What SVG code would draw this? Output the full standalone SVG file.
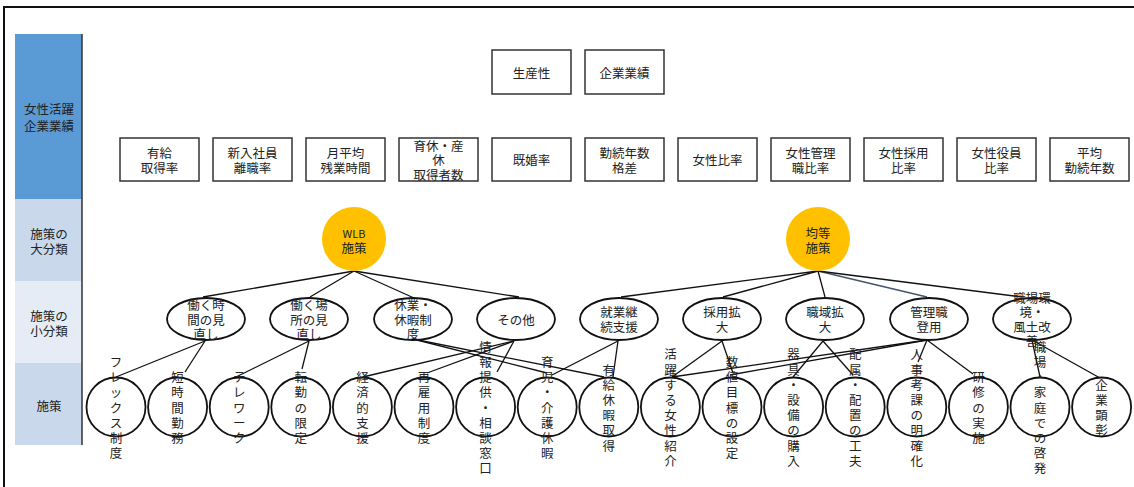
<svg xmlns="http://www.w3.org/2000/svg" width="1134" height="487" viewBox="0 0 1134 487">
<style>
.t{font-family:"Noto Sans CJK JP","Noto Sans CJK SC",sans-serif;font-size:12.5px;fill:#222;text-anchor:middle;dominant-baseline:central}
.box{fill:#fff;stroke:#333;stroke-width:1.5}
.ell{fill:none;stroke:#111;stroke-width:1.8}
.cir{fill:none;stroke:#111;stroke-width:1.8}
.big{fill:#FFC000}
.c line{stroke:#111;stroke-width:1.3}
</style>
<rect width="1134" height="487" fill="#fff"/>
<path d="M4 487 V7 H1134" fill="none" stroke="#111" stroke-width="2"/>
<g id="sidebar">
<rect x="15" y="34" width="67" height="165" fill="#5B9BD5"/>
<rect x="15" y="199" width="67" height="82" fill="#CAD8EC"/>
<rect x="15" y="281" width="67" height="82" fill="#E5ECF6"/>
<rect x="15" y="363" width="67" height="82" fill="#CAD8EC"/>
<line x1="82" y1="34" x2="82" y2="445" stroke="#333" stroke-width="1.5"/>
<text class="t" x="49" y="108">女性活躍</text><text class="t" x="49" y="125">企業業績</text>
<text class="t" x="49" y="233">施策の</text><text class="t" x="49" y="248">大分類</text>
<text class="t" x="49" y="315">施策の</text><text class="t" x="49" y="330">小分類</text>
<text class="t" x="49" y="405">施策</text>
</g>
<g id="top-productivity"><rect class="box" x="492" y="50" width="79" height="44"/><text class="t" x="531.5" y="72">生産性</text></g>
<g id="top-performance"><rect class="box" x="585" y="50" width="79" height="44"/><text class="t" x="624.5" y="72">企業業績</text></g>
<g id="kpi-1"><rect class="box" x="120" y="138" width="79" height="43"/><text class="t" x="159.5" y="152">有給</text><text class="t" x="159.5" y="167">取得率</text></g>
<g id="kpi-2"><rect class="box" x="213" y="138" width="79" height="43"/><text class="t" x="252.5" y="152">新入社員</text><text class="t" x="252.5" y="167">離職率</text></g>
<g id="kpi-3"><rect class="box" x="306" y="138" width="79" height="43"/><text class="t" x="345.5" y="152">月平均</text><text class="t" x="345.5" y="167">残業時間</text></g>
<g id="kpi-4"><rect class="box" x="399" y="138" width="79" height="43"/><text class="t" x="438.5" y="145">育休・産</text><text class="t" x="438.5" y="159.5">休</text><text class="t" x="438.5" y="174">取得者数</text></g>
<g id="kpi-5"><rect class="box" x="492" y="138" width="79" height="43"/><text class="t" x="531.5" y="159.5">既婚率</text></g>
<g id="kpi-6"><rect class="box" x="585" y="138" width="79" height="43"/><text class="t" x="624.5" y="152">勤続年数</text><text class="t" x="624.5" y="167">格差</text></g>
<g id="kpi-7"><rect class="box" x="678" y="138" width="79" height="43"/><text class="t" x="717.5" y="159.5">女性比率</text></g>
<g id="kpi-8"><rect class="box" x="771" y="138" width="79" height="43"/><text class="t" x="810.5" y="152">女性管理</text><text class="t" x="810.5" y="167">職比率</text></g>
<g id="kpi-9"><rect class="box" x="864" y="138" width="79" height="43"/><text class="t" x="903.5" y="152">女性採用</text><text class="t" x="903.5" y="167">比率</text></g>
<g id="kpi-10"><rect class="box" x="957" y="138" width="79" height="43"/><text class="t" x="996.5" y="152">女性役員</text><text class="t" x="996.5" y="167">比率</text></g>
<g id="kpi-11"><rect class="box" x="1050" y="138" width="79" height="43"/><text class="t" x="1089.5" y="152">平均</text><text class="t" x="1089.5" y="167">勤続年数</text></g>
<g id="connectors" class="c">
<line x1="354" y1="271" x2="203" y2="297"/>
<line x1="354" y1="271" x2="310" y2="297"/>
<line x1="354" y1="271" x2="414" y2="298"/>
<line x1="354" y1="271" x2="519" y2="297"/>
<line x1="818" y1="271" x2="621" y2="297"/>
<line x1="818" y1="271" x2="723" y2="297"/>
<line x1="818" y1="271" x2="825" y2="297"/>
<line x1="818" y1="271" x2="927" y2="297" style="stroke:#44546A"/>
<line x1="818" y1="271" x2="1022" y2="297"/>
<line x1="205" y1="341" x2="116" y2="377"/>
<line x1="205" y1="341" x2="185" y2="372"/>
<line x1="309" y1="341" x2="236" y2="377"/>
<line x1="309" y1="341" x2="302" y2="369"/>
<line x1="514" y1="341" x2="363" y2="377"/>
<line x1="514" y1="341" x2="427" y2="373"/>
<line x1="514" y1="341" x2="497" y2="372"/>
<line x1="413" y1="339" x2="547" y2="373"/>
<line x1="413" y1="339" x2="604" y2="377"/>
<line x1="618" y1="341" x2="552" y2="375"/>
<line x1="618" y1="341" x2="613" y2="377"/>
<line x1="722" y1="341" x2="672" y2="377"/>
<line x1="722" y1="341" x2="733" y2="373"/>
<line x1="823" y1="341" x2="793" y2="377"/>
<line x1="823" y1="341" x2="853" y2="375"/>
<line x1="927" y1="340" x2="672" y2="377"/>
<line x1="927" y1="340" x2="730" y2="375"/>
<line x1="927" y1="340" x2="918" y2="362"/>
<line x1="927" y1="340" x2="973" y2="374"/>
<line x1="1032" y1="340" x2="1040" y2="377"/>
<line x1="1032" y1="340" x2="1100" y2="378"/>
</g>
<g id="wlb"><circle class="big" cx="354" cy="239" r="32"/><text class="t" x="354" y="233" style="font-size:11px">WLB</text><text class="t" x="354" y="247">施策</text></g>
<g id="equal"><circle class="big" cx="818" cy="239" r="32"/><text class="t" x="818" y="232">均等</text><text class="t" x="818" y="247">施策</text></g>
<g id="sub-1"><ellipse class="ell" cx="206" cy="319" rx="39" ry="21"/><text class="t" x="206" y="304.5">働く時</text><text class="t" x="206" y="319">間の見</text><text class="t" x="206" y="333.5">直し</text></g>
<g id="sub-2"><ellipse class="ell" cx="309" cy="319" rx="39" ry="21"/><text class="t" x="309" y="304.5">働く場</text><text class="t" x="309" y="319">所の見</text><text class="t" x="309" y="333.5">直し</text></g>
<g id="sub-3"><ellipse class="ell" cx="413" cy="319" rx="39" ry="21"/><text class="t" x="413" y="304.5">休業・</text><text class="t" x="413" y="319">休暇制</text><text class="t" x="413" y="333.5">度</text></g>
<g id="sub-4"><ellipse class="ell" cx="516" cy="319" rx="39" ry="21"/><text class="t" x="516" y="319">その他</text></g>
<g id="sub-5"><ellipse class="ell" cx="619" cy="319" rx="39" ry="21"/><text class="t" x="619" y="311.75">就業継</text><text class="t" x="619" y="326.25">続支援</text></g>
<g id="sub-6"><ellipse class="ell" cx="722" cy="319" rx="39" ry="21"/><text class="t" x="722" y="311.75">採用拡</text><text class="t" x="722" y="326.25">大</text></g>
<g id="sub-7"><ellipse class="ell" cx="825" cy="319" rx="39" ry="21"/><text class="t" x="825" y="311.75">職域拡</text><text class="t" x="825" y="326.25">大</text></g>
<g id="sub-8"><ellipse class="ell" cx="929" cy="319" rx="39" ry="21"/><text class="t" x="929" y="311.75">管理職</text><text class="t" x="929" y="326.25">登用</text></g>
<g id="sub-9"><ellipse class="ell" cx="1032" cy="319" rx="39" ry="21"/><text class="t" x="1032" y="297.25">職場環</text><text class="t" x="1032" y="311.75">境・</text><text class="t" x="1032" y="326.25">風土改</text><text class="t" x="1032" y="340.75">善</text></g>
<g id="m-1"><circle class="cir" cx="116" cy="407" r="29.5"/><text class="t" x="116 116 116 116 116 116 116" y="361.4 376.6 391.8 407 422.2 437.4 452.6">フレックス制度</text></g>
<g id="m-2"><circle class="cir" cx="177.6" cy="407" r="29.5"/><text class="t" x="177.6 177.6 177.6 177.6 177.6" y="376.6 391.8 407 422.2 437.4">短時間勤務</text></g>
<g id="m-3"><circle class="cir" cx="239.2" cy="407" r="29.5"/><text class="t" x="239.2 239.2 239.2 239.2 239.2" y="376.6 391.8 407 422.2 437.4">テレワーク</text></g>
<g id="m-4"><circle class="cir" cx="300.8" cy="407" r="29.5"/><text class="t" x="300.8 300.8 300.8 300.8 300.8" y="376.6 391.8 407 422.2 437.4">転勤の限定</text></g>
<g id="m-5"><circle class="cir" cx="362.4" cy="407" r="29.5"/><text class="t" x="362.4 362.4 362.4 362.4 362.4" y="376.6 391.8 407 422.2 437.4">経済的支援</text></g>
<g id="m-6"><circle class="cir" cx="424" cy="407" r="29.5"/><text class="t" x="424 424 424 424 424" y="376.6 391.8 407 422.2 437.4">再雇用制度</text></g>
<g id="m-7"><circle class="cir" cx="485.6" cy="407" r="29.5"/><text class="t" x="485.6 485.6 485.6 485.6 485.6 485.6 485.6 485.6 485.6" y="346.2 361.4 376.6 391.8 407 422.2 437.4 452.6 467.8">情報提供・相談窓口</text></g>
<g id="m-8"><circle class="cir" cx="547.2" cy="407" r="29.5"/><text class="t" x="547.2 547.2 547.2 547.2 547.2 547.2 547.2" y="361.4 376.6 391.8 407 422.2 437.4 452.6">育児・介護休暇</text></g>
<g id="m-9"><circle class="cir" cx="608.8" cy="407" r="29.5"/><text class="t" x="608.8 608.8 608.8 608.8 608.8 608.8" y="369 384.2 399.4 414.6 429.8 445">有給休暇取得</text></g>
<g id="m-10"><circle class="cir" cx="670.4" cy="407" r="29.5"/><text class="t" x="670.4 670.4 670.4 670.4 670.4 670.4 670.4 670.4" y="353.8 369 384.2 399.4 414.6 429.8 445 460.2">活躍する女性紹介</text></g>
<g id="m-11"><circle class="cir" cx="732" cy="407" r="29.5"/><text class="t" x="732 732 732 732 732 732 732" y="361.4 376.6 391.8 407 422.2 437.4 452.6">数値目標の設定</text></g>
<g id="m-12"><circle class="cir" cx="793.6" cy="407" r="29.5"/><text class="t" x="793.6 793.6 793.6 793.6 793.6 793.6 793.6 793.6" y="353.8 369 384.2 399.4 414.6 429.8 445 460.2">器具・設備の購入</text></g>
<g id="m-13"><circle class="cir" cx="855.2" cy="407" r="29.5"/><text class="t" x="855.2 855.2 855.2 855.2 855.2 855.2 855.2 855.2" y="353.8 369 384.2 399.4 414.6 429.8 445 460.2">配属・配置の工夫</text></g>
<g id="m-14"><circle class="cir" cx="916.8" cy="407" r="29.5"/><text class="t" x="916.8 916.8 916.8 916.8 916.8 916.8 916.8 916.8" y="353.8 369 384.2 399.4 414.6 429.8 445 460.2">人事考課の明確化</text></g>
<g id="m-15"><circle class="cir" cx="978.4" cy="407" r="29.5"/><text class="t" x="978.4 978.4 978.4 978.4 978.4" y="376.6 391.8 407 422.2 437.4">研修の実施</text></g>
<g id="m-16"><circle class="cir" cx="1040" cy="407" r="29.5"/><text class="t" x="1040 1040 1040 1040 1040 1040 1040 1040 1040" y="346.2 361.4 376.6 391.8 407 422.2 437.4 452.6 467.8">職場・家庭での啓発</text></g>
<g id="m-17"><circle class="cir" cx="1101.6" cy="407" r="29.5"/><text class="t" x="1101.6 1101.6 1101.6 1101.6" y="384.2 399.4 414.6 429.8">企業顕彰</text></g>
</svg>
